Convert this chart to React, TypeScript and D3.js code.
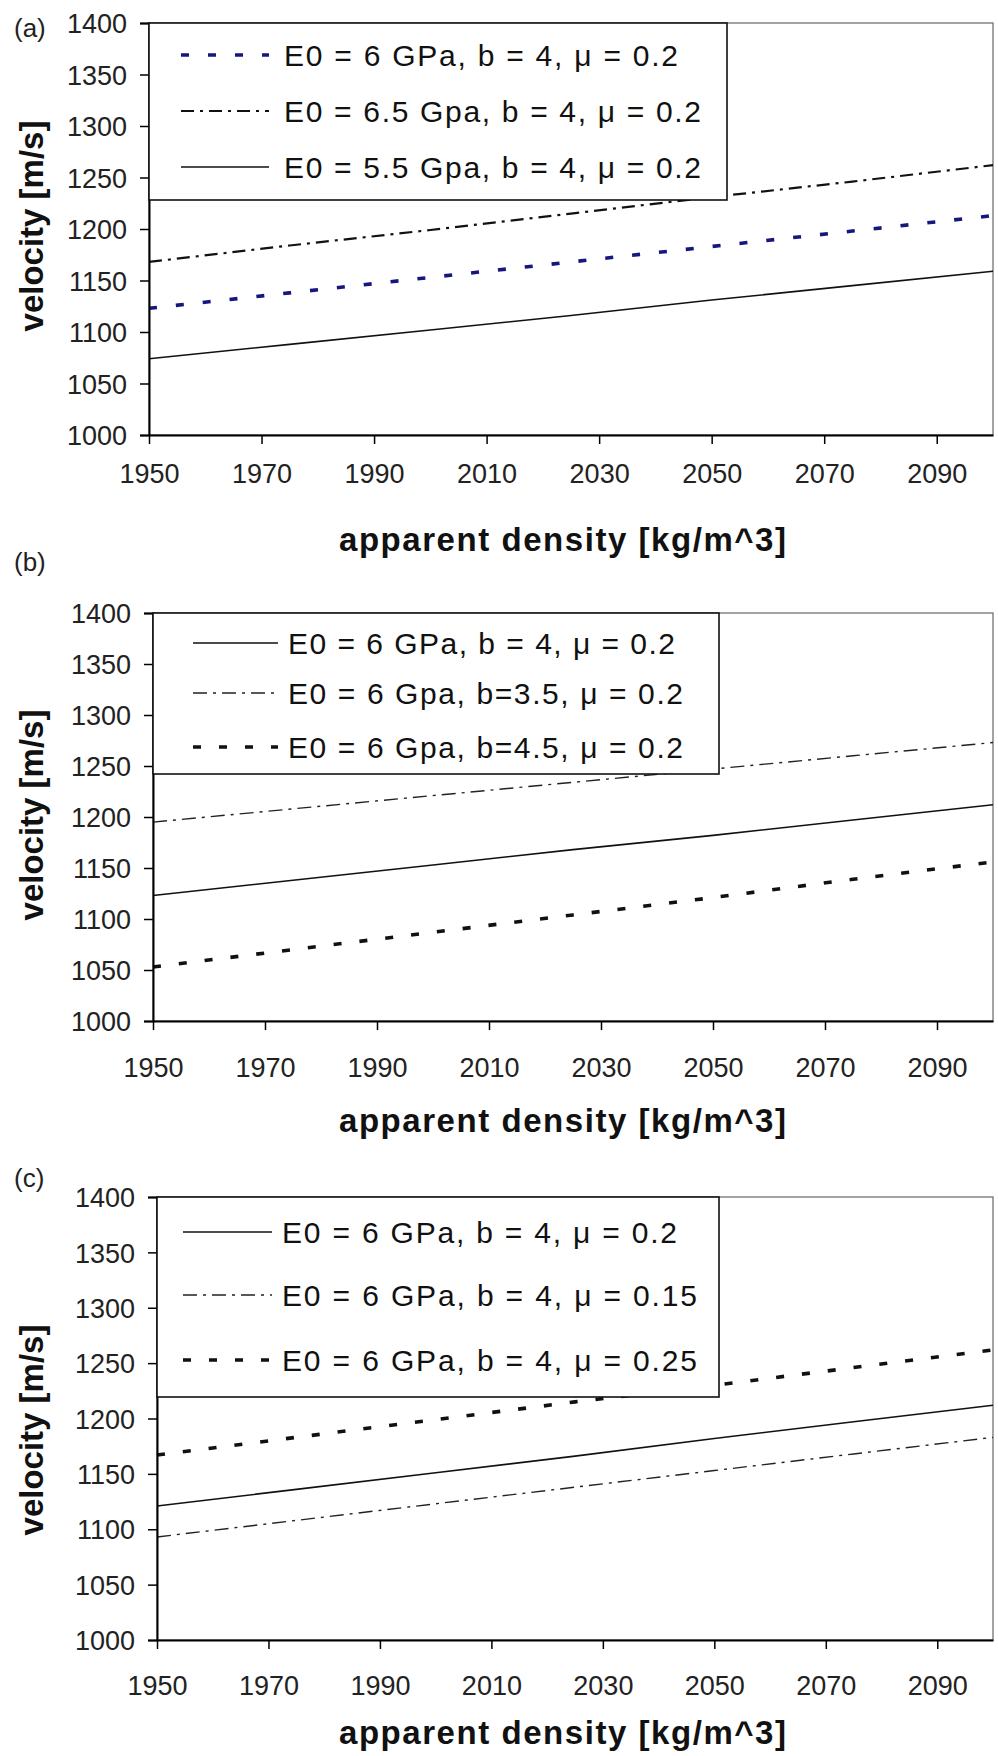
import React, { useEffect, useRef } from 'react'
import * as d3 from 'd3'

const density = [1950, 1975, 2000, 2025, 2050, 2075, 2100]
const xTicks = [1950, 1970, 1990, 2010, 2030, 2050, 2070, 2090]
const yTicks = [1000, 1050, 1100, 1150, 1200, 1250, 1300, 1350, 1400]

// (a) varying E0
const aE60 = [1123, 1138, 1153, 1168, 1183, 1198, 1213]
const aE65 = [1168, 1184, 1199, 1215, 1231, 1246, 1262]
const aE55 = [1074, 1088, 1102, 1116, 1131, 1145, 1159]
const labelsA = ['E0 = 6 GPa, b = 4, μ = 0.2', 'E0 = 6.5 Gpa, b = 4, μ = 0.2', 'E0 = 5.5 Gpa, b = 4, μ = 0.2']

// (b) varying b
const bB40 = [1123, 1138, 1153, 1168, 1182, 1197, 1212]
const bB35 = [1195, 1208, 1221, 1234, 1247, 1260, 1273]
const bB45 = [1053, 1070, 1087, 1104, 1121, 1139, 1156]
const labelsB = ['E0 = 6 GPa, b = 4, μ = 0.2', 'E0 = 6 Gpa, b=3.5, μ = 0.2', 'E0 = 6 Gpa, b=4.5, μ = 0.2']

// (c) varying mu
const cM20 = [1121, 1136, 1151, 1166, 1182, 1197, 1212]
const cM15 = [1093, 1108, 1123, 1138, 1153, 1168, 1183]
const cM25 = [1167, 1183, 1199, 1215, 1230, 1246, 1262]
const labelsC = ['E0 = 6 GPa, b = 4, μ = 0.2', 'E0 = 6 GPa, b = 4, μ = 0.15', 'E0 = 6 GPa, b = 4, μ = 0.25']

const xTitle = 'apparent density [kg/m^3]'
const yTitle = 'velocity [m/s]'

// line styles
const blueDash = { color: '#16167e', width: 3.6, dash: '8,19' }
const thickDashDot = { color: '#111', width: 2.2, dash: '13,6,3,6' }
const thinDashDot = { color: '#222', width: 1.4, dash: '14,6,3,6' }
const solid = { color: '#111', width: 1.6, dash: null }
const thickDash = { color: '#111', width: 3.6, dash: '8,18' }

const panels = [
  {
    tag: '(a)', series: [aE60, aE65, aE55], labels: labelsA, styles: [blueDash, thickDashDot, solid],
    left: 149, top: 23, bottom: 435, legRight: 727, legBottom: 200, rows: [55, 111, 167],
    sample: [181, 269], textX: 284, textLen: [394, 417, 417],
    xLabelBase: 483, xTitleBase: 551, yTitleY: 226, tagBase: 37
  },
  {
    tag: '(b)', series: [bB40, bB35, bB45], labels: labelsB, styles: [solid, thinDashDot, thickDash],
    left: 153, top: 613, bottom: 1021, legRight: 719, legBottom: 774, rows: [643, 693, 747],
    sample: [193, 278], textX: 288, textLen: [387, 395, 395],
    xLabelBase: 1077, xTitleBase: 1132, yTitleY: 815, tagBase: 571
  },
  {
    tag: '(c)', series: [cM20, cM15, cM25], labels: labelsC, styles: [solid, thinDashDot, thickDash],
    left: 157, top: 1197, bottom: 1640, legRight: 719, legBottom: 1397, rows: [1232, 1295, 1360],
    sample: [183, 272], textX: 282, textLen: [395, 415, 415],
    xLabelBase: 1695, xTitleBase: 1744, yTitleY: 1430, tagBase: 1187
  }
]

const RIGHT = 993
const FONT = "'Liberation Sans', Arial, Helvetica, sans-serif"

function drawPanel(svg, p) {
  const x = d3.scaleLinear().domain([1950, 2100]).range([p.left, RIGHT])
  const y = d3.scaleLinear().domain([1000, 1400]).range([p.bottom, p.top])
  const g = svg.append('g').attr('font-family', FONT)

  // plot frame (top/right lighter)
  g.append('rect')
    .attr('x', p.left).attr('y', p.top)
    .attr('width', RIGHT - p.left).attr('height', p.bottom - p.top)
    .attr('fill', '#fff').attr('stroke', '#666').attr('stroke-width', 1.2)

  // data lines
  const line = d3.line().x((d, i) => x(density[i])).y(d => y(d))
  p.series.forEach((s, i) => {
    const st = p.styles[i]
    g.append('path')
      .attr('d', line(s))
      .attr('fill', 'none')
      .attr('stroke', st.color)
      .attr('stroke-width', st.width)
      .attr('stroke-dasharray', st.dash)
  })

  // y axis
  const yAxis = g.append('g').attr('transform', 'translate(' + p.left + ',0)')
    .call(d3.axisLeft(y).tickValues(yTicks).tickSize(9).tickPadding(13).tickFormat(d3.format('d')))
  yAxis.select('.domain').attr('stroke', '#000').attr('stroke-width', 2)
  yAxis.selectAll('.tick line').attr('stroke', '#000').attr('stroke-width', 1.5)
  yAxis.selectAll('.tick text')
    .attr('font-size', 27).attr('font-family', FONT).attr('fill', '#222').attr('dy', '0.36em')

  // x axis
  const xAxis = g.append('g').attr('transform', 'translate(0,' + p.bottom + ')')
    .call(d3.axisBottom(x).tickValues(xTicks).tickSize(9).tickSizeOuter(0).tickFormat(d3.format('d')))
  xAxis.select('.domain').attr('stroke', '#000').attr('stroke-width', 2)
  xAxis.selectAll('.tick line').attr('stroke', '#000').attr('stroke-width', 1.5)
  xAxis.selectAll('.tick text')
    .attr('font-size', 27).attr('font-family', FONT).attr('fill', '#222')
    .attr('y', p.xLabelBase - p.bottom).attr('dy', null)

  // legend box over the lines
  g.append('rect')
    .attr('x', p.left).attr('y', p.top)
    .attr('width', p.legRight - p.left).attr('height', p.legBottom - p.top)
    .attr('fill', '#fff').attr('stroke', '#111').attr('stroke-width', 1.6)

  p.labels.forEach((lab, i) => {
    const st = p.styles[i]
    const ry = p.rows[i]
    g.append('line')
      .attr('x1', p.sample[0]).attr('x2', p.sample[1])
      .attr('y1', ry).attr('y2', ry)
      .attr('stroke', st.color)
      .attr('stroke-width', st.width)
      .attr('stroke-dasharray', st.dash)
    g.append('text')
      .attr('x', p.textX).attr('y', ry + 11)
      .attr('font-size', 30).attr('fill', '#111')
      .attr('textLength', p.textLen[i]).attr('lengthAdjust', 'spacing')
      .text(lab)
  })

  // titles
  g.append('text')
    .attr('x', 339).attr('y', p.xTitleBase)
    .attr('font-size', 33).attr('font-weight', 'bold').attr('fill', '#111')
    .attr('textLength', 447).attr('lengthAdjust', 'spacing')
    .text(xTitle)
  g.append('text')
    .attr('transform', 'translate(43,' + p.yTitleY + ') rotate(-90)')
    .attr('text-anchor', 'middle')
    .attr('font-size', 33).attr('font-weight', 'bold').attr('fill', '#111')
    .text(yTitle)
  g.append('text')
    .attr('x', 14).attr('y', p.tagBase)
    .attr('font-size', 26).attr('fill', '#222')
    .text(p.tag)
}

export default function App() {
  const ref = useRef(null)

  useEffect(() => {
    const svg = d3.select(ref.current)
    svg.selectAll('*').remove()
    svg.append('rect').attr('width', 998).attr('height', 1756).attr('fill', '#fff')
    panels.forEach(p => drawPanel(svg, p))
  }, [])

  return (
    <svg ref={ref} width={998} height={1756}
      style={{ position: 'absolute', left: 0, top: 0, display: 'block' }} />
  )
}
